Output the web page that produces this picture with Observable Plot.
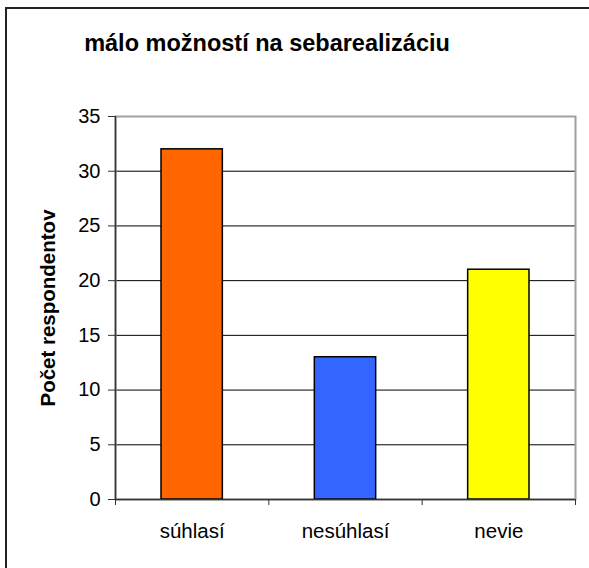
<!DOCTYPE html>
<html>
<head>
<meta charset="utf-8">
<script src="https://cdn.jsdelivr.net/npm/d3@7"></script>
<script src="https://cdn.jsdelivr.net/npm/@observablehq/plot@0.6"></script>
<style>
  html, body { margin: 0; padding: 0; background: #fff; }
  #wrap { position: relative; width: 589px; height: 568px; overflow: hidden; font-family: "Liberation Sans", Arial, sans-serif; }
  #frame { position: absolute; left: 5px; top: 7px; width: 700px; height: 700px; border: 2px solid #222; box-sizing: border-box; }
  #title { position: absolute; left: 0; width: 534px; top: 32px; line-height: 1; text-align: center; font-weight: bold; font-size: 23.5px; color: #000; }
  #chart { position: absolute; left: 0; top: 0; }
</style>
</head>
<body>
<div id="wrap">
  <div id="frame"></div>
  <div id="chart"></div>
  <div id="title"></div>
</div>
<script>
const title = "málo možností na sebarealizáciu";
const yLabel = "Počet respondentov";
const categories = ["súhlasí", "nesúhlasí", "nevie"];
const values = [32, 13, 21];
const colors = ["#FF6600", "#3366FF", "#FFFF00"];
const yTicks = [0, 5, 10, 15, 20, 25, 30, 35];
const gridValues = [5, 10, 15, 20, 25, 30];

document.getElementById("title").textContent = title;

const data = categories.map((c, i) => ({cat: c, value: values[i], color: colors[i], i}));
const boundaries = d3.range(categories.length + 1);

const chart = Plot.plot({
  width: 589,
  height: 568,
  marginLeft: 115,
  marginRight: 14,
  marginTop: 116,
  marginBottom: 69,
  style: {fontFamily: "'Liberation Sans', Arial, sans-serif", background: "transparent"},
  x: {type: "linear", domain: [0, categories.length], axis: null},
  y: {type: "linear", domain: [0, 35], axis: null},
  marks: [
    Plot.ruleY(gridValues, {stroke: "#000", strokeWidth: 1}),
    Plot.frame({stroke: "#a0a0a0", strokeWidth: 2}),
    Plot.rectY(data, {x1: d => d.i + 0.3, x2: d => d.i + 0.7, y1: 0, y2: "value", fill: "color", stroke: "#000", strokeWidth: 1.5}),
    Plot.ruleY([0], {stroke: "#333", strokeWidth: 1.5}),
    Plot.ruleX([0], {stroke: "#333", strokeWidth: 1.5}),
    Plot.axisY({ticks: yTicks, label: null, tickSize: 7, tickPadding: 8, fontSize: 20, stroke: "#333", fill: "#000", tickFormat: d => String(d)}),
    Plot.axisX({ticks: boundaries, label: null, tickSize: 6, stroke: "#333", tickFormat: () => ""}),
    Plot.text(data, {x: d => d.i + 0.5, y: 0, text: "cat", dy: 32, fontSize: 20.5, fill: "#000", textAnchor: "middle", lineAnchor: "middle"}),
    Plot.text([yLabel], {frameAnchor: "left", rotate: -90, dx: -67, fontSize: 20.5, fontWeight: "bold", fill: "#000", textAnchor: "middle"})
  ]
});
document.getElementById("chart").appendChild(chart);
</script>
</body>
</html>
